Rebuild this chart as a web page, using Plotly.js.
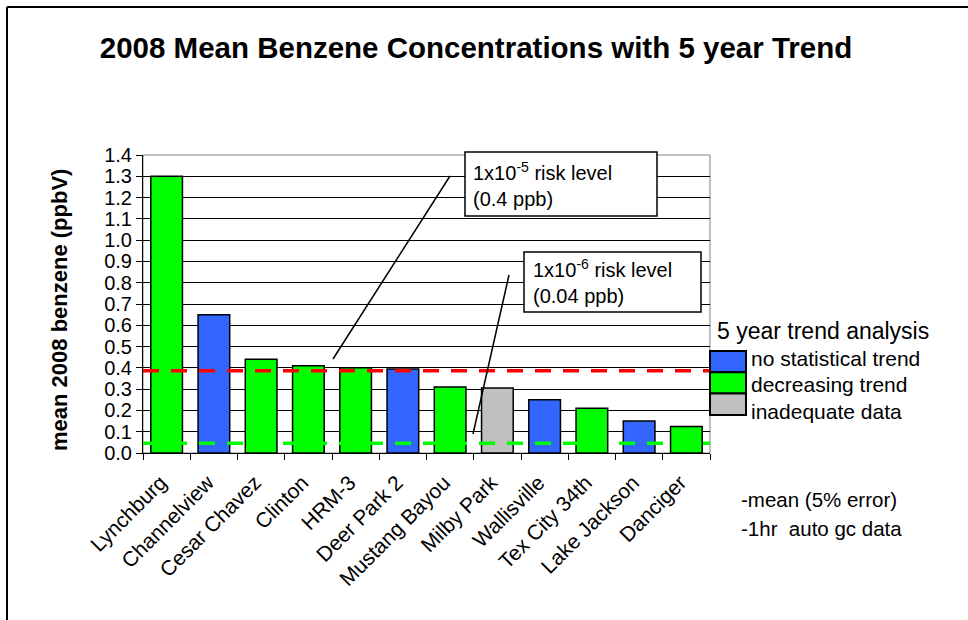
<!DOCTYPE html>
<html><head><meta charset="utf-8">
<script src="https://cdn.plot.ly/plotly-3.0.1.min.js"></script>
<style>html,body{margin:0;padding:0;background:#fff;overflow:hidden}#chart{width:968px;height:620px}</style>
</head><body><div id="chart"></div>
<script>
// ---- data ----
const sites = ["Lynchburg","Channelview","Cesar Chavez","Clinton","HRM-3","Deer Park 2","Mustang Bayou","Milby Park","Wallisville","Tex City 34th","Lake Jackson","Danciger"];
const benzene = [1.30, 0.65, 0.44, 0.41, 0.40, 0.395, 0.31, 0.305, 0.25, 0.21, 0.15, 0.125];
const trend = ["decreasing","none","decreasing","decreasing","decreasing","none","decreasing","inadequate","none","decreasing","none","decreasing"];
const trendKeys = ["none","decreasing","inadequate"];
const trendLabels = ["no statistical trend","decreasing trend","inadequate data"];
const riskLevels = [0.386, 0.046];
const riskTexts = ["1x10<sup>-5</sup> risk level<br>(0.4 ppb)", "1x10<sup>-6</sup> risk level<br>(0.04 ppb)"];
const notes = ["-mean (5% error)", "-1hr  auto gc data"];

// ---- styling ----
const trendColors = {none:"#3366FF", decreasing:"#00FF00", inadequate:"#C0C0C0"};
const riskColors = ["#FF0000", "#00FF00"];
const FONT = "Arial, 'Liberation Sans', sans-serif";
const W = 968, H = 620, L = 143, R = 710, T = 155, B = 453;
const px = x => (x - L) / (R - L);
const py = y => (B - y) / (B - T);

const shapes = [];
// plot-area border (grey)
shapes.push({type:"rect", xref:"paper", yref:"paper", x0:0, x1:1, y0:0, y1:1, line:{color:"#808080", width:1}, layer:"below"});
// outer chart frame (left + top)
shapes.push({type:"line", xref:"paper", yref:"paper", x0:px(7), x1:px(7), y0:py(7), y1:py(640), line:{color:"#000", width:2}});
shapes.push({type:"line", xref:"paper", yref:"paper", x0:px(7), x1:px(990), y0:py(7), y1:py(7), line:{color:"#000", width:2}});
// risk level dashed lines
riskLevels.forEach((v, i) => {
  shapes.push({type:"line", xref:"paper", yref:"y", x0:0, x1:1, y0:v, y1:v, line:{color:riskColors[i], width:3.5, dash:"16px,12px"}, layer:"above"});
});
// callout boxes
const boxes = [[465,152,657,216],[524,252,701,312]];
boxes.forEach(b => shapes.push({type:"rect", xref:"paper", yref:"paper", x0:px(b[0]), x1:px(b[2]), y0:py(b[3]), y1:py(b[1]), fillcolor:"#fff", line:{color:"#000", width:1.5}, layer:"above"}));
// callout pointer lines
const pointers = [[450,176,333,359],[509,275,473,434]];
pointers.forEach(p => shapes.push({type:"line", xref:"paper", yref:"paper", x0:px(p[0]), y0:py(p[1]), x1:px(p[2]), y1:py(p[3]), line:{color:"#000", width:1.5}, layer:"above"}));
// legend swatches
const swTop = 351, swH = 21.3;
trendKeys.forEach((k, i) => shapes.push({type:"rect", xref:"paper", yref:"paper", x0:px(710), x1:px(746), y0:py(swTop + (i+1)*swH), y1:py(swTop + i*swH), fillcolor:trendColors[k], line:{color:"#000", width:2}}));

const annotations = [];
const boxTextPos = [[471,157],[531,254]];
riskTexts.forEach((t, i) => annotations.push({xref:"paper", yref:"paper", x:px(boxTextPos[i][0]), y:py(boxTextPos[i][1]), xanchor:"left", yanchor:"top", align:"left", showarrow:false, text:t, font:{family:FONT, size:20, color:"#000"}}));
annotations.push({xref:"paper", yref:"paper", x:px(715), y:py(331), xanchor:"left", yanchor:"middle", showarrow:false, text:"5 year trend analysis", font:{family:FONT, size:23, color:"#000"}});
trendLabels.forEach((t, i) => annotations.push({xref:"paper", yref:"paper", x:px(749), y:py(358 + i*26.5), xanchor:"left", yanchor:"middle", showarrow:false, text:t, font:{family:FONT, size:21, color:"#000"}}));
notes.forEach((t, i) => annotations.push({xref:"paper", yref:"paper", x:px(739), y:py(499 + i*29), xanchor:"left", yanchor:"middle", showarrow:false, text:t, font:{family:FONT, size:20.5, color:"#000"}}));
annotations.push({xref:"paper", yref:"paper", x:px(59), y:py(310), xanchor:"center", yanchor:"middle", showarrow:false, textangle:-90, text:"<b>mean 2008 benzene (ppbV)</b>", font:{family:FONT, size:22, color:"#000"}});

const trace = {
  type:"bar", x:sites, y:benzene,
  marker:{color:trend.map(t => trendColors[t]), line:{color:"#000", width:1.5}},
  hoverinfo:"x+y", showlegend:false
};

const layout = {
  width:W, height:H, paper_bgcolor:"#fff", plot_bgcolor:"#fff",
  margin:{l:L, r:W-R, t:T, b:H-B, pad:0},
  title:{text:"<b>2008 Mean Benzene Concentrations with 5 year Trend</b>", font:{family:FONT, size:29.5, color:"#000"}, x:px(476), xanchor:"center", xref:"paper", y:1-48/H, yanchor:"middle"},
  bargap:0.33, showlegend:false,
  xaxis:{type:"category", showgrid:false, showline:true, linecolor:"#000", linewidth:1, ticks:"outside", tickson:"boundaries", ticklen:6, tickcolor:"#000", tickangle:-45, ticklabelstandoff:8, ticklabelshift:-6, tickfont:{family:FONT, size:21, color:"#000"}, automargin:false, range:[-0.5, 11.5], fixedrange:true},
  yaxis:{range:[0,1.4], dtick:0.1, tick0:0, tickformat:".1f", showgrid:true, gridcolor:"#000", gridwidth:1, showline:true, linecolor:"#000", linewidth:1, ticks:"outside", ticklen:6, tickcolor:"#000", tickfont:{family:FONT, size:20, color:"#000"}, zeroline:false, automargin:false, fixedrange:true},
  shapes:shapes, annotations:annotations
};

Plotly.newPlot("chart", [trace], layout, {displayModeBar:false, staticPlot:true});
</script>
</body></html>
